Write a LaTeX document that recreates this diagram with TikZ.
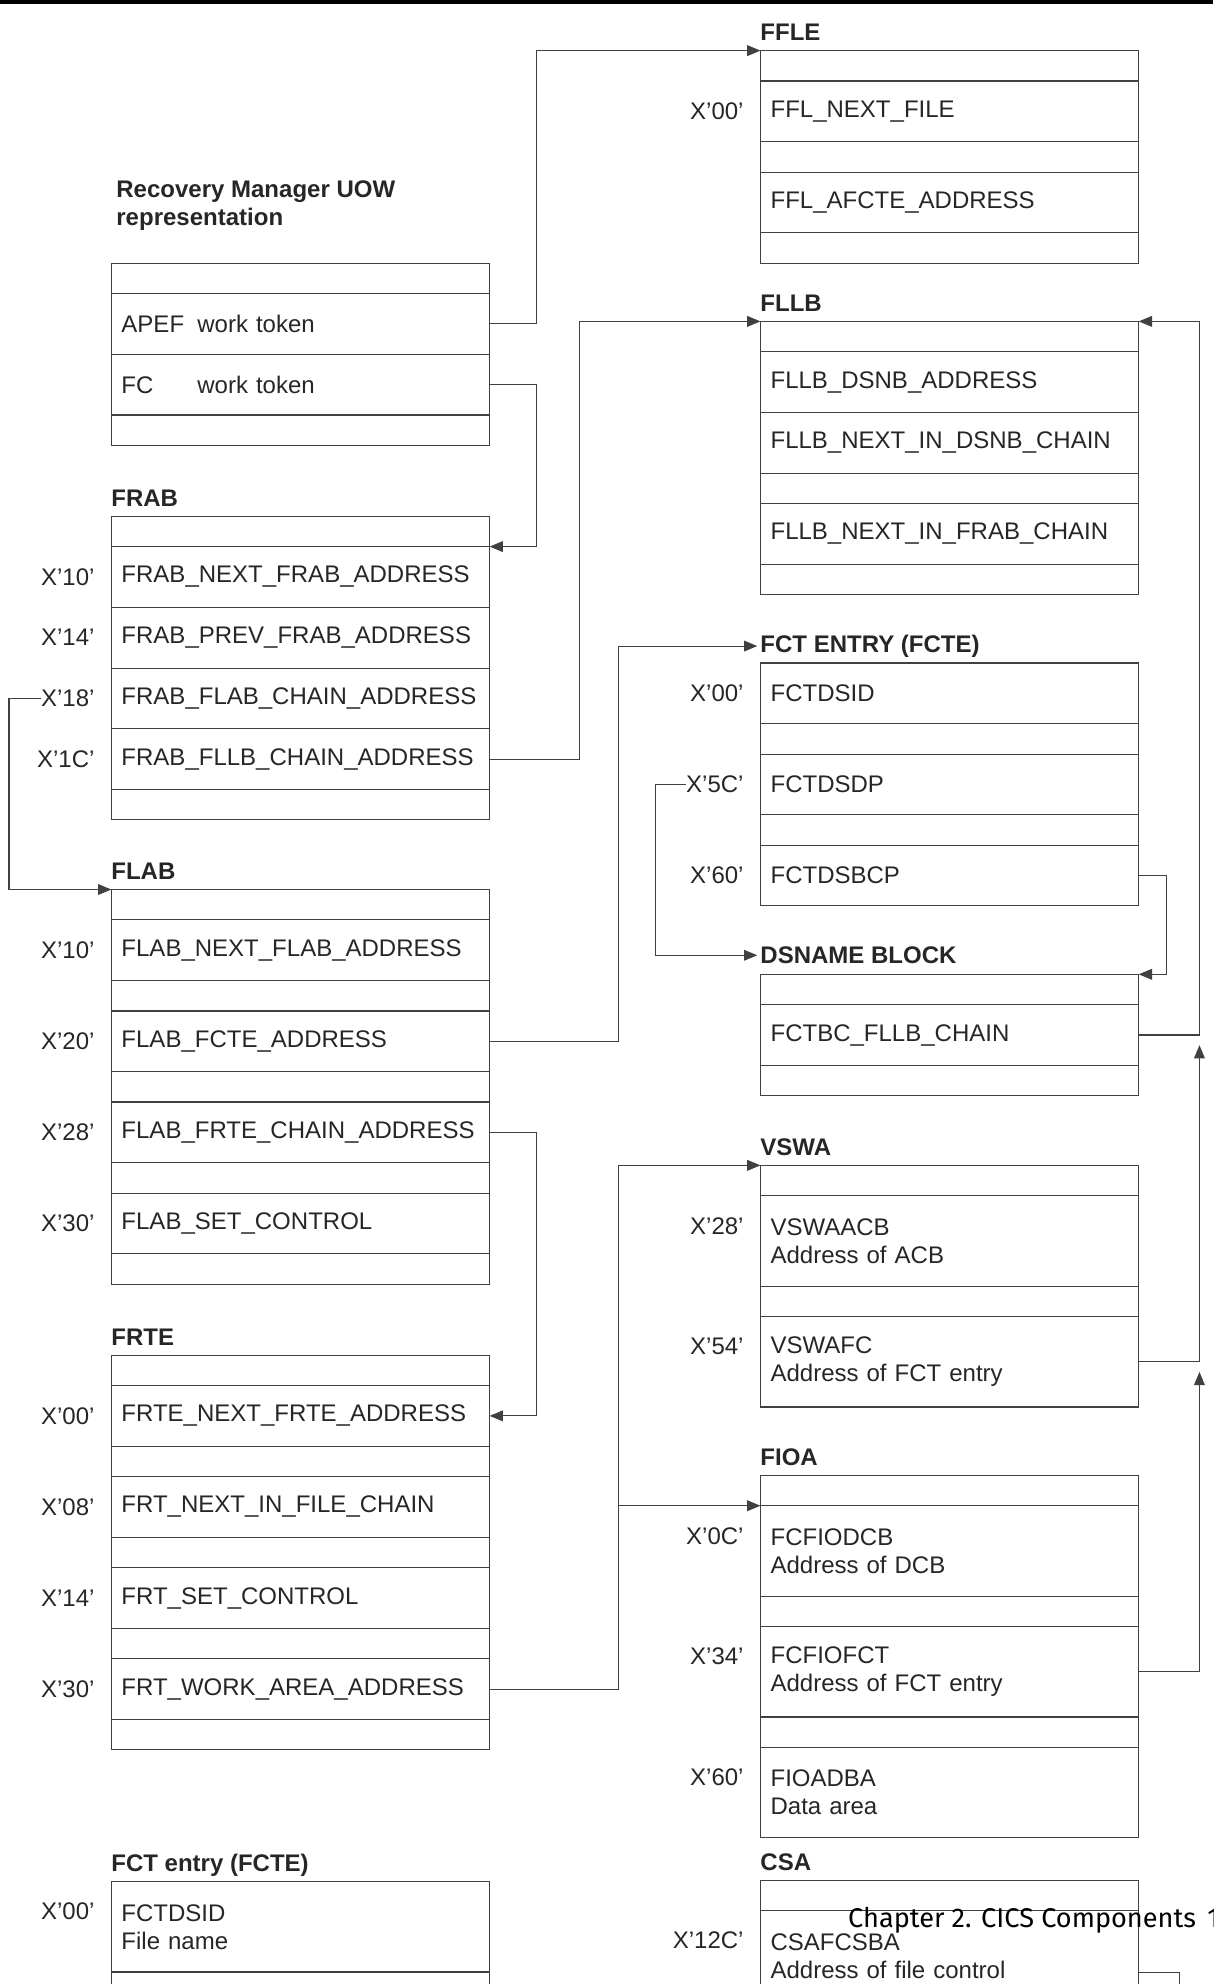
\documentclass[tikz,border=0pt]{standalone}
\usepackage{fontspec}
\setmainfont{Liberation Sans}
\newfontfamily\pagefont{Fira Sans}
\usetikzlibrary{arrows.meta, positioning, calc}

\newcommand{\fs}{\fontsize{10.8}{12.6}\selectfont}

\begin{document}
\begin{tikzpicture}[
  x=0.02cm, y=-0.02cm,
  cell/.style={draw=black!75, line width=0.5pt, outer sep=0pt, text=black!85, text width=5.66cm, inner xsep=0.16cm, inner ysep=0pt, minimum height=0.96cm, align=left, font=\fs},
  gap/.style={cell, minimum height=0.48cm},
  tall/.style={cell, minimum height=1.43cm},
  title/.style={inner sep=0pt, outer sep=0pt, text=black!85, font=\fs\bfseries},
  offs/.style={inner sep=0pt, text=black!85, font=\fs},
  link/.style={draw=black!75, line width=0.5pt},
  >={Triangle[length=0.21cm, width=0.17cm]},
  node distance=0pt
]
\useasboundingbox (0,0) rectangle (959,1568);
\draw[line width=1.6pt] (0,1.4) -- (959,1.4);

% Recovery Manager UOW
\node[gap, anchor=north west] (uow0) at (88,208) {};
\node[cell, below=of uow0] (uow1) {\makebox[1.2cm][l]{APEF}work token};
\node[cell, below=of uow1] (uow2) {\makebox[1.2cm][l]{FC}work token};
\node[gap, below=of uow2]  (uow3) {};
\node[title, align=left, above right=0.52cm and 0.08cm of uow0.north west] (tuow) {Recovery Manager UOW\\representation};

% FRAB
\node[gap, anchor=north west] (frab0) at (88,408) {};
\node[cell, below=of frab0] (frab1) {FRAB\_NEXT\_FRAB\_ADDRESS};
\node[cell, below=of frab1] (frab2) {FRAB\_PREV\_FRAB\_ADDRESS};
\node[cell, below=of frab2] (frab3) {FRAB\_FLAB\_CHAIN\_ADDRESS};
\node[cell, below=of frab3] (frab4) {FRAB\_FLLB\_CHAIN\_ADDRESS};
\node[gap, below=of frab4]  (frab5) {};
\node[title, above right=0.16cm and 0pt of frab0.north west, anchor=base west] (tfrab) {FRAB};
\node[offs, left=0.26cm of frab1] (x10a) {X'10'};
\node[offs, left=0.26cm of frab2] (x14a) {X'14'};
\node[offs, left=0.26cm of frab3] (x18)  {X'18'};
\node[offs, left=0.26cm of frab4] (x1ca) {X'1C'};

% FLAB
\node[gap, anchor=north west] (flab0) at (88,703) {};
\node[cell, below=of flab0] (flab1) {FLAB\_NEXT\_FLAB\_ADDRESS};
\node[gap, below=of flab1]  (flab2) {};
\node[cell, below=of flab2] (flab3) {FLAB\_FCTE\_ADDRESS};
\node[gap, below=of flab3]  (flab4) {};
\node[cell, below=of flab4] (flab5) {FLAB\_FRTE\_CHAIN\_ADDRESS};
\node[gap, below=of flab5]  (flab6) {};
\node[cell, below=of flab6] (flab7) {FLAB\_SET\_CONTROL};
\node[gap, below=of flab7]  (flab8) {};
\node[title, above right=0.16cm and 0pt of flab0.north west, anchor=base west] (tflab) {FLAB};
\node[offs, left=0.26cm of flab1] (x10b) {X'10'};
\node[offs, left=0.26cm of flab3] (x20b) {X'20'};
\node[offs, left=0.26cm of flab5] (x28b) {X'28'};
\node[offs, left=0.26cm of flab7] (x30b) {X'30'};

% FRTE
\node[gap, anchor=north west] (frte0) at (88,1071) {};
\node[cell, below=of frte0] (frte1) {FRTE\_NEXT\_FRTE\_ADDRESS};
\node[gap, below=of frte1]  (frte2) {};
\node[cell, below=of frte2] (frte3) {FRT\_NEXT\_IN\_FILE\_CHAIN};
\node[gap, below=of frte3]  (frte4) {};
\node[cell, below=of frte4] (frte5) {FRT\_SET\_CONTROL};
\node[gap, below=of frte5]  (frte6) {};
\node[cell, below=of frte6] (frte7) {FRT\_WORK\_AREA\_ADDRESS};
\node[gap, below=of frte7]  (frte8) {};
\node[title, above right=0.16cm and 0pt of frte0.north west, anchor=base west] (tfrte) {FRTE};
\node[offs, left=0.26cm of frte1] (x00c) {X'00'};
\node[offs, left=0.26cm of frte3] (x08c) {X'08'};
\node[offs, left=0.26cm of frte5] (x14c) {X'14'};
\node[offs, left=0.26cm of frte7] (x30c) {X'30'};

% FCT entry (left, bottom)
\node[tall, anchor=north west] (lfct1) at (88,1487) {FCTDSID\\File name};
\node[tall, below=of lfct1] (lfct2) {};
\node[title, above right=0.16cm and 0pt of lfct1.north west, anchor=base west] (tlfct) {FCT entry (FCTE)};
\node[offs, left=0.26cm of lfct1, yshift=0.24cm] (x00d) {X'00'};

% FFLE
\node[gap, anchor=north west] (ffle0) at (601,40) {};
\node[cell, below=of ffle0] (ffle1) {FFL\_NEXT\_FILE};
\node[gap, below=of ffle1]  (ffle2) {};
\node[cell, below=of ffle2] (ffle3) {FFL\_AFCTE\_ADDRESS};
\node[gap, below=of ffle3]  (ffle4) {};
\node[title, above right=0.16cm and 0pt of ffle0.north west, anchor=base west] (tffle) {FFLE};
\node[offs, left=0.26cm of ffle1] (x00e) {X'00'};

% FLLB
\node[gap, anchor=north west] (fllb0) at (601,254) {};
\node[cell, below=of fllb0] (fllb1) {FLLB\_DSNB\_ADDRESS};
\node[cell, below=of fllb1] (fllb2) {FLLB\_NEXT\_IN\_DSNB\_CHAIN};
\node[gap, below=of fllb2]  (fllb3) {};
\node[cell, below=of fllb3] (fllb4) {FLLB\_NEXT\_IN\_FRAB\_CHAIN};
\node[gap, below=of fllb4]  (fllb5) {};
\node[title, above right=0.16cm and 0pt of fllb0.north west, anchor=base west] (tfllb) {FLLB};

% FCT ENTRY (FCTE)
\node[cell, anchor=north west] (fcte0) at (601,524) {FCTDSID};
\node[gap, below=of fcte0]  (fcte1) {};
\node[cell, below=of fcte1] (fcte2) {FCTDSDP};
\node[gap, below=of fcte2]  (fcte3) {};
\node[cell, below=of fcte3] (fcte4) {FCTDSBCP};
\node[title, above right=0.17cm and 0pt of fcte0.north west, anchor=base west] (tfcte) {FCT ENTRY (FCTE)};
\node[offs, left=0.26cm of fcte0] (x00f) {X'00'};
\node[offs, left=0.26cm of fcte2] (x5c)  {X'5C'};
\node[offs, left=0.26cm of fcte4] (x60f) {X'60'};

% DSNAME BLOCK
\node[gap, anchor=north west] (dsn0) at (601,770) {};
\node[cell, below=of dsn0] (dsn1) {FCTBC\_FLLB\_CHAIN};
\node[gap, below=of dsn1]  (dsn2) {};
\node[title, above right=0.17cm and 0pt of dsn0.north west, anchor=base west] (tdsn) {DSNAME BLOCK};

% VSWA
\node[gap, anchor=north west] (vswa0) at (601,921) {};
\node[tall, below=of vswa0] (vswa1) {VSWAACB\\Address of ACB};
\node[gap, below=of vswa1]  (vswa2) {};
\node[tall, below=of vswa2] (vswa3) {VSWAFC\\Address of FCT entry};
\node[title, above right=0.16cm and 0pt of vswa0.north west, anchor=base west] (tvswa) {VSWA};
\node[offs, left=0.26cm of vswa1, yshift=0.24cm] (x28g) {X'28'};
\node[offs, left=0.26cm of vswa3, yshift=0.24cm] (x54g) {X'54'};

% FIOA
\node[gap, anchor=north west] (fioa0) at (601,1166) {};
\node[tall, below=of fioa0] (fioa1) {FCFIODCB\\Address of DCB};
\node[gap, below=of fioa1]  (fioa2) {};
\node[tall, below=of fioa2] (fioa3) {FCFIOFCT\\Address of FCT entry};
\node[gap, below=of fioa3]  (fioa4) {};
\node[tall, below=of fioa4] (fioa5) {FIOADBA\\Data area};
\node[title, above right=0.16cm and 0pt of fioa0.north west, anchor=base west] (tfioa) {FIOA};
\node[offs, left=0.26cm of fioa1, yshift=0.24cm] (x0ch) {X'0C'};
\node[offs, left=0.26cm of fioa3, yshift=0.24cm] (x34h) {X'34'};
\node[offs, left=0.26cm of fioa5, yshift=0.24cm] (x60h) {X'60'};

% CSA
\node[gap, anchor=north west] (csa0) at (601,1486) {};
\node[tall, below=of csa0] (csa1) {CSAFCSBA\\Address of file control};
\node[title, above right=0.16cm and 0pt of csa0.north west, anchor=base west] (tcsa) {CSA};
\node[offs, left=0.26cm of csa1, yshift=0.24cm] (x12c) {X'12C'};

% pointers
\draw[link, ->] (uow1.east) -- ++(37,0) |- (ffle0.north west);
\draw[link, ->] (uow2.east) -- ++(37,0) |- (frab0.south east);
\draw[link, ->] (x18.west) -- ++(-25,0) |- (flab0.north west);
\draw[link, ->] (frab4.east) -- ++(71,0) |- (fllb0.north west);
\draw[link, ->, shorten >=0.05cm] (flab3.east) -- ++(102,0) |- (tfcte.west);
\draw[link, ->] (flab5.east) -- ++(37,0) |- (frte1.east);
\draw[link, ->] (frte7.east) -- ++(102,0) coordinate (j1) |- (vswa0.north west);
\draw[link, ->] (j1) |- (fioa0.south west);
\draw[link, ->, shorten >=0.05cm] (x5c.west) -- ++(-24,0) |- (tdsn.west);
\draw[link, ->] (fcte4.east) -- ++(22,0) |- (dsn0.north east);
\draw[link, ->] (dsn1.east) -- ++(48,0) |- (fllb0.north east);
\draw[link, ->] (vswa3.east) -| ($(dsn1.east)+(48,8)$);
\draw[link, ->] (fioa3.east) -| ($(vswa3.east)+(48,8)$);
\draw[link] ($(csa1.east)+(0,13)$) -- ++(32,0) -- ++(0,40);

\node[anchor=base west, inner sep=0pt, font=\pagefont\fontsize{12.2}{14}\selectfont] (foot) at (670,1523) {Chapter 2. CICS Components\hspace{0.18cm}1};
\end{tikzpicture}
\end{document}
